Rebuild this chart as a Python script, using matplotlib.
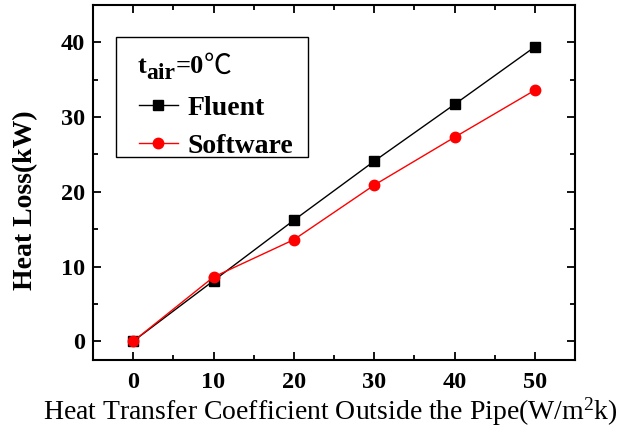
import matplotlib
matplotlib.use("Agg")
import matplotlib.pyplot as plt
from matplotlib.patches import Rectangle
from matplotlib.ticker import MultipleLocator

# heat transfer coefficient outside the pipe (W/m2k)
h_values = [0, 10, 20, 30, 40, 50]
fluent_kw = [0, 8.1, 16.2, 24.1, 31.7, 39.4]
software_kw = [0, 8.6, 13.6, 20.9, 27.3, 33.6]

plt.rcParams['font.family'] = ['Liberation Serif', 'DejaVu Serif']
plt.rcParams['mathtext.fontset'] = 'custom'
plt.rcParams['mathtext.rm'] = 'Liberation Serif'
plt.rcParams['mathtext.it'] = 'Liberation Serif:italic'
plt.rcParams['mathtext.bf'] = 'Liberation Serif:bold'

fig = plt.figure(figsize=(6.22, 4.32), dpi=100)
ax = fig.add_axes([0.1495, 0.1667, 0.775, 0.8217])

ax.plot(h_values, fluent_kw, color='black', lw=1, marker='s', ms=6.5, label='Fluent')
ax.plot(h_values, software_kw, color='red', lw=1, marker='o', ms=7.5, label='Software')

ax.set_xlim(-5, 55)
ax.set_ylim(-2.5, 45)
ax.xaxis.set_major_locator(MultipleLocator(10))
ax.xaxis.set_minor_locator(MultipleLocator(5))
ax.yaxis.set_major_locator(MultipleLocator(10))
ax.yaxis.set_minor_locator(MultipleLocator(5))
ax.tick_params(which='both', direction='in', top=True, right=True, width=1.3)
ax.tick_params(which='major', length=6, labelsize=17.5)
ax.tick_params(axis='x', which='major', pad=9)
ax.tick_params(axis='y', which='major', pad=6)
ax.tick_params(which='minor', length=3.5)
for lbl in ax.get_xticklabels() + ax.get_yticklabels():
    lbl.set_fontweight('bold')
for sp in ax.spines.values():
    sp.set_linewidth(1.5)

ax.set_xlabel('Heat Transfer Coefficient Outside the Pipe(W/m$^\\mathrm{2}$k)', fontsize=20)
ax.xaxis.set_label_coords(0.4917, -0.1)
ax.set_ylabel('Heat Loss(kW)', fontsize=20, fontweight='bold')
ax.yaxis.set_label_coords(-0.113, 0.45)

# legend box drawn by hand so the padding can match the original
ax.add_patch(Rectangle((0.0477, 0.572), 0.398, 0.338, transform=ax.transAxes,
                       facecolor='white', edgecolor='black', lw=1, zorder=4.5))

# legend title is a blank placeholder, the real title pieces are drawn on top
leg = ax.legend(loc='upper left', bbox_to_anchor=(0.095, 0.85),
                prop={'weight': 'bold', 'size': 20}, title=' ' * 10,
                frameon=False, handlelength=1.4, borderpad=0,
                labelspacing=0.45, handletextpad=0.35, borderaxespad=0)
leg.get_title().set_fontsize(20.5)
leg._legend_box.align = 'left'

title = leg.get_title()
t_txt = ax.annotate('t', xy=(0, 0), xycoords=title, xytext=(-1, 4), textcoords='offset points',
                    ha='left', va='bottom', fontsize=19, fontweight='bold', zorder=6)
air_txt = ax.annotate('air', xy=(1, 0), xycoords=t_txt, xytext=(0, -4.5), textcoords='offset points',
                      ha='left', va='bottom', fontsize=17, fontweight='bold', zorder=6)
eq_txt = ax.annotate('=0', xy=(1, 0), xycoords=(air_txt, t_txt), ha='left', va='bottom',
                     fontsize=19, fontweight='bold', zorder=6)
ax.annotate('℃', xy=(1, 0), xycoords=eq_txt, xytext=(0, -2), textcoords='offset points',
            ha='left', va='bottom', fontsize=20, zorder=6,
            family=['Noto Sans CJK SC', 'DejaVu Sans'])

fig.canvas.draw()
fig.savefig('out.png', dpi=100)
